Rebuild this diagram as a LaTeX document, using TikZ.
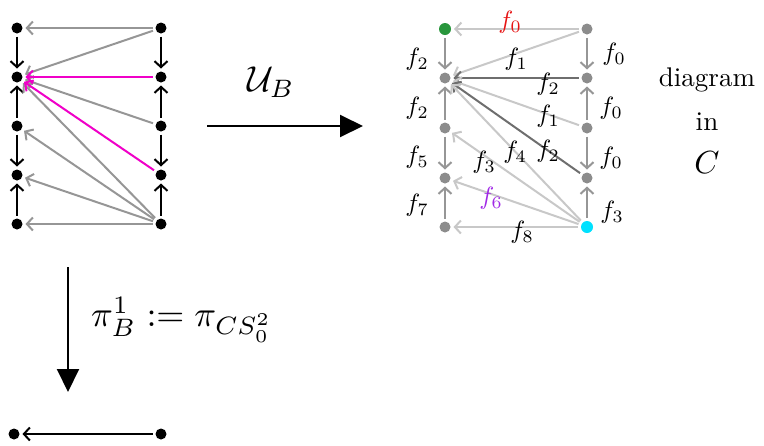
\documentclass[tikz,border=0pt]{standalone}
\usetikzlibrary{arrows.meta}
\definecolor{mag}{RGB}{240,0,200}
\definecolor{lgray}{RGB}{200,200,200}
\definecolor{mgray}{RGB}{150,150,150}
\definecolor{dgray}{RGB}{110,110,110}
\definecolor{ldot}{RGB}{140,140,140}
\definecolor{gdot}{RGB}{40,150,60}
\definecolor{cdot}{RGB}{0,225,255}
\definecolor{fred}{RGB}{230,20,20}
\definecolor{fpur}{RGB}{160,40,230}
\newcommand{\flab}[1]{\scalebox{2.5}{$#1$}}
\newcommand{\btxt}[2]{\scalebox{#1}{#2}}
\begin{document}
\begin{tikzpicture}[x=1pt,y=-1pt,
  bdot/.style={circle,fill=black,inner sep=0pt,minimum size=11pt,outer sep=3pt},
  gydot/.style={circle,fill=ldot,inner sep=0pt,minimum size=11pt,outer sep=3pt},
  arr/.style={line width=2pt,-{Straight Barb[length=6pt,width=13pt]}},
  bigarr/.style={line width=2pt,-{Triangle[length=23pt,width=22pt]}},
  lab/.style={inner sep=1pt},
  txt/.style={inner sep=1pt}]
\useasboundingbox (0,0) rectangle (764,445);
% ---------- left diagram ----------
\foreach \i/\y in {0/28,1/77,2/126,3/175,4/224}{
  \node[bdot] (L\i) at (17,\y) {};
  \node[bdot] (R\i) at (161,\y) {};
}
\foreach \c in {L,R}{
  \draw[arr,black] (\c0) -- (\c1);
  \draw[arr,black] (\c2) -- (\c1);
  \draw[arr,black] (\c2) -- (\c3);
  \draw[arr,black] (\c4) -- (\c3);
}
\draw[arr,mgray] (R0) -- (L0);
\draw[arr,mgray] (R0) -- (L1);
\draw[arr,mgray] (R2) -- (L1);
\draw[arr,mgray] (R4) -- (L1);
\draw[arr,mgray] (R4) -- (L2);
\draw[arr,mgray] (R4) -- (L3);
\draw[arr,mgray] (R4) -- (L4);
\draw[arr,mag] (R1) -- (L1);
\draw[arr,mag] (R3) -- (L1);
% ---------- right diagram ----------
\foreach \i/\y in {0/29,1/78,2/128,3/178,4/227}{
  \node[gydot] (A\i) at (445,\y) {};
  \node[gydot] (B\i) at (587,\y) {};
}
\node[gydot,fill=gdot,minimum size=12pt] (A0) at (445,29) {};
\node[gydot,fill=cdot,minimum size=12pt] (B4) at (587,227) {};
\foreach \c in {A,B}{
  \draw[arr,mgray] (\c0) -- (\c1);
  \draw[arr,mgray] (\c2) -- (\c1);
  \draw[arr,mgray] (\c2) -- (\c3);
  \draw[arr,mgray] (\c4) -- (\c3);
}
\draw[arr,lgray] (B0) -- (A0);
\draw[arr,lgray] (B0) -- (A1);
\draw[arr,dgray] (B1) -- (A1);
\draw[arr,lgray] (B2) -- (A1);
\draw[arr,dgray] (B3) -- (A1);
\draw[arr,lgray] (B4) -- (A1);
\draw[arr,lgray] (B4) -- (A2);
\draw[arr,lgray] (B4) -- (A3);
\draw[arr,lgray] (B4) -- (A4);
% edge labels
\node[lab,text=fred] (l0) at (510,22) {\flab{f_0}};
\node[lab] (l1) at (516,59) {\flab{f_1}};
\node[lab] (l2) at (548,84) {\flab{f_2}};
\node[lab] (l3) at (548,116) {\flab{f_1}};
\node[lab] (l4) at (548,151) {\flab{f_2}};
\node[lab] (l5) at (515,152) {\flab{f_4}};
\node[lab] (l6) at (484,162) {\flab{f_3}};
\node[lab,text=fpur] (l7) at (491,198) {\flab{f_6}};
\node[lab] (l8) at (522,232) {\flab{f_8}};
\node[lab] (la1) at (417,59) {\flab{f_2}};
\node[lab] (la2) at (417,108) {\flab{f_2}};
\node[lab] (la3) at (417,157) {\flab{f_5}};
\node[lab] (la4) at (417,205) {\flab{f_7}};
\node[lab] (lb1) at (614,54) {\flab{f_0}};
\node[lab] (lb2) at (611,108) {\flab{f_0}};
\node[lab] (lb3) at (611,158) {\flab{f_0}};
\node[lab] (lb4) at (612,212) {\flab{f_3}};
\node[txt] (d1) at (707,80) {\btxt{2.7}{diagram}};
\node[txt] (d2) at (707,122) {\btxt{2.7}{in}};
\node[txt] (d3) at (707,163) {\btxt{3.2}{$C$}};
% ---------- functor arrows ----------
\coordinate (h1) at (207,126);
\coordinate (h2) at (363,126);
\draw[bigarr] (h1) -- (h2);
\node[txt] (uB) at (271,82) {\btxt{3.6}{$\mathcal{U}_B$}};
\coordinate (v1) at (68,267);
\coordinate (v2) at (68,392);
\draw[bigarr] (v1) -- (v2);
\node[txt,anchor=west] (pi) at (90,320) {\btxt{3.6}{$\pi^1_B := \pi_{C S_0^2}$}};
% ---------- bottom ----------
\node[bdot] (P0) at (14,434) {};
\node[bdot] (P1) at (161,434) {};
\draw[arr,black] (P1) -- (P0);
\end{tikzpicture}
\end{document}
